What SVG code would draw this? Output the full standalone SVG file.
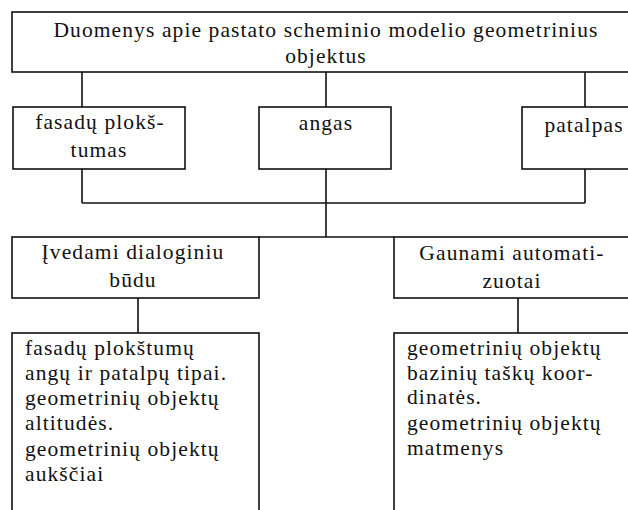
<svg xmlns="http://www.w3.org/2000/svg" width="628" height="510" viewBox="0 0 628 510">
<style>
.box{fill:#fff;stroke:#111;stroke-width:1.6}
.ln{fill:none;stroke:#111;stroke-width:1.6}
text{font-family:"Liberation Serif","Times New Roman",serif;font-size:21.5px;letter-spacing:1.1px;fill:#111}
.c{text-anchor:middle}
</style>
<rect width="628" height="510" fill="#fff"/>
<g id="connectors">
<path class="ln" d="M82 72V107M326 72V107M585 72V107"/>
<path class="ln" d="M82 169V203M585 169V203M82 203H585M326 169V237M259 237H394"/>
<path class="ln" d="M138 298V333M518 298V333"/>
</g>
<g id="top">
<rect class="box" x="12" y="12" width="640" height="60"/>
<text class="c" x="326" y="37">Duomenys apie pastato scheminio modelio geometrinius</text>
<text class="c" x="326" y="63">objektus</text>
</g>
<g id="fasadu">
<rect class="box" x="13" y="107" width="172" height="62"/>
<text class="c" x="100" y="129">fasadų plokš-</text>
<text class="c" x="99" y="157">tumas</text>
</g>
<g id="angas">
<rect class="box" x="259" y="107" width="132" height="62"/>
<text class="c" x="326" y="130">angas</text>
</g>
<g id="patalpas">
<rect class="box" x="522" y="107" width="140" height="62"/>
<text class="c" x="584" y="132">patalpas</text>
</g>
<g id="ivedami">
<rect class="box" x="12" y="237" width="247" height="61"/>
<text class="c" x="133" y="259">Įvedami dialoginiu</text>
<text class="c" x="133" y="287">būdu</text>
</g>
<g id="gaunami">
<rect class="box" x="394" y="237" width="260" height="61"/>
<text class="c" x="512" y="260">Gaunami automati-</text>
<text class="c" x="512" y="288">zuotai</text>
</g>
<g id="left-list">
<rect class="box" x="12" y="333" width="247" height="200"/>
<text x="25" y="355">fasadų plokštumų</text>
<text x="25" y="380">angų ir patalpų tipai.</text>
<text x="25" y="405">geometrinių objektų</text>
<text x="25" y="430">altitudės.</text>
<text x="25" y="456">geometrinių objektų</text>
<text x="25" y="481">aukščiai</text>
</g>
<g id="right-list">
<rect class="box" x="394" y="333" width="260" height="200"/>
<text x="407" y="355">geometrinių objektų</text>
<text x="407" y="380">bazinių taškų koor-</text>
<text x="407" y="404">dinatės.</text>
<text x="407" y="430">geometrinių objektų</text>
<text x="407" y="455">matmenys</text>
</g>
</svg>
